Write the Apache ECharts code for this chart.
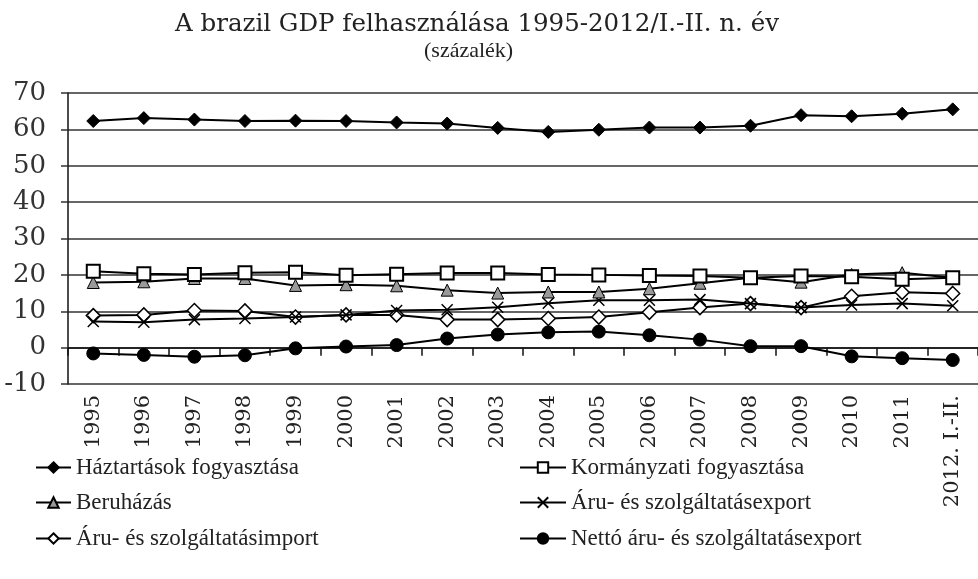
<!DOCTYPE html>
<html>
<head>
<meta charset="utf-8">
<script src="https://cdn.jsdelivr.net/npm/echarts@6/dist/echarts.min.js"></script>
<style>
html,body{margin:0;padding:0;background:#fff;}
#c{width:978px;height:579px;}
</style>
</head>
<body>
<div id="c"></div>
<script>
const categories = ['1995','1996','1997','1998','1999','2000','2001','2002','2003','2004','2005','2006','2007','2008','2009','2010','2011','2012. I.-II.'];
const hazt = [62.3,63.1,62.7,62.3,62.4,62.3,61.9,61.6,60.4,59.3,59.9,60.5,60.5,61.0,63.9,63.6,64.3,65.5];
const korm = [21.0,20.3,20.1,20.6,20.7,19.9,20.2,20.5,20.5,20.1,20.0,19.8,19.7,19.2,19.7,19.5,18.8,19.2];
const beru = [17.9,18.1,19.0,19.0,17.1,17.3,17.0,15.8,15.0,15.3,15.3,16.2,17.7,19.2,18.0,20.1,20.6,19.2];
const exportv = [7.2,7.0,7.7,8.0,8.4,9.0,10.2,10.4,11.1,12.2,13.0,13.0,13.2,12.1,11.0,11.7,12.1,11.5];
const importv = [8.8,9.0,10.2,10.1,8.4,9.0,9.0,7.7,7.7,8.0,8.4,9.7,11.0,12.1,11.0,14.1,15.2,14.9];
const netto = [-1.6,-2.0,-2.5,-2.1,-0.2,0.3,0.7,2.5,3.6,4.2,4.4,3.4,2.2,0.4,0.4,-2.4,-2.9,-3.4];
const names = ['Háztartások fogyasztása','Kormányzati fogyasztása','Beruházás','Áru- és szolgáltatásexport','Áru- és szolgáltatásimport','Nettó áru- és szolgáltatásexport'];
const titleText = 'A brazil GDP felhasználása 1995-2012/I.-II. n. év';
const subText = '(százalék)';

const FONT = '"Liberation Serif", "DejaVu Serif", serif';
const WFONT = '"DejaVu Serif", "Liberation Serif", serif';
const chart = echarts.init(document.getElementById('c'));

function line(name, data, symbol, size, itemStyle, z) {
  return {
    name, type: 'line', data, xAxisIndex: 0, yAxisIndex: 0,
    symbol, symbolSize: size, showAllSymbol: true, z: z,
    lineStyle: { color: '#000', width: 2 },
    itemStyle: Object.assign({ opacity: 1 }, itemStyle),
    emphasis: { disabled: true },
    animation: false
  };
}
const crossPath = 'path://M0,0L10,10M0,10L10,0';

const legendPos = [
  [35, 456, 35], [519, 456, 46],
  [35, 491, 35], [519, 491, 46],
  [35, 527, 35], [519, 527, 46]
];

chart.setOption({
  backgroundColor: '#fff',
  animation: false,
  title: [
    { text: titleText, left: 175, top: 12, padding: 0,
      textStyle: { fontFamily: WFONT, fontSize: 24.5, fontWeight: 'normal', color: '#222' } },
    { text: subText, left: 424, top: 40, padding: 0,
      textStyle: { fontFamily: FONT, fontSize: 22, fontWeight: 'normal', color: '#222' } }
  ],
  legend: names.map((n, i) => ({
    data: [n], left: legendPos[i][0], top: legendPos[i][1], padding: 0,
    itemWidth: legendPos[i][2], itemHeight: 13,
    selectedMode: false,
    textStyle: { fontFamily: FONT, fontSize: 23, color: '#222' }
  })),
  grid: { left: 68, right: -2, top: 93, bottom: 195 },
  xAxis: [
    { type: 'category', data: categories, position: 'bottom', boundaryGap: true,
      axisLine: { show: false, onZero: false }, axisTick: { show: false },
      axisLabel: { rotate: 90, margin: 11, interval: 0, fontFamily: WFONT, fontSize: 21, color: '#222' },
      splitLine: { show: false } },
    { type: 'category', data: categories, position: 'bottom', boundaryGap: true,
      axisLine: { show: true, onZero: true, lineStyle: { color: '#111', width: 1.5 } },
      axisTick: { show: true, length: 8, inside: false, interval: 0, lineStyle: { color: '#111', width: 1.5 } },
      axisLabel: { show: false }, splitLine: { show: false } }
  ],
  yAxis: {
    type: 'value', min: -10, max: 70, interval: 10,
    axisLine: { show: true, lineStyle: { color: '#111', width: 1.5 } },
    axisTick: { show: true, length: 7, inside: false, lineStyle: { color: '#333', width: 1.5 } },
    axisLabel: { margin: 22, fontFamily: WFONT, fontSize: 26, color: '#333',
      formatter: v => (v === -10 ? '-10' : String(v)) },
    splitLine: { show: true, lineStyle: { color: '#333', width: 1.5 } }
  },
  series: [
    line(names[5], netto, 'circle', 13, { color: '#000', borderColor: '#000', borderWidth: 1 }, 2),
    line(names[4], importv, 'diamond', 14, { color: '#fff', borderColor: '#000', borderWidth: 1.5 }, 3),
    line(names[3], exportv, crossPath, 11, { color: '#000', borderColor: '#000', borderWidth: 1.5 }, 4),
    line(names[2], beru, 'triangle', 12, { color: '#999', borderColor: '#000', borderWidth: 1 }, 5),
    line(names[1], korm, 'rect', 13, { color: '#fff', borderColor: '#000', borderWidth: 2 }, 6),
    line(names[0], hazt, 'diamond', 13, { color: '#000', borderColor: '#000', borderWidth: 1 }, 7)
  ]
});
</script>
</body>
</html>
